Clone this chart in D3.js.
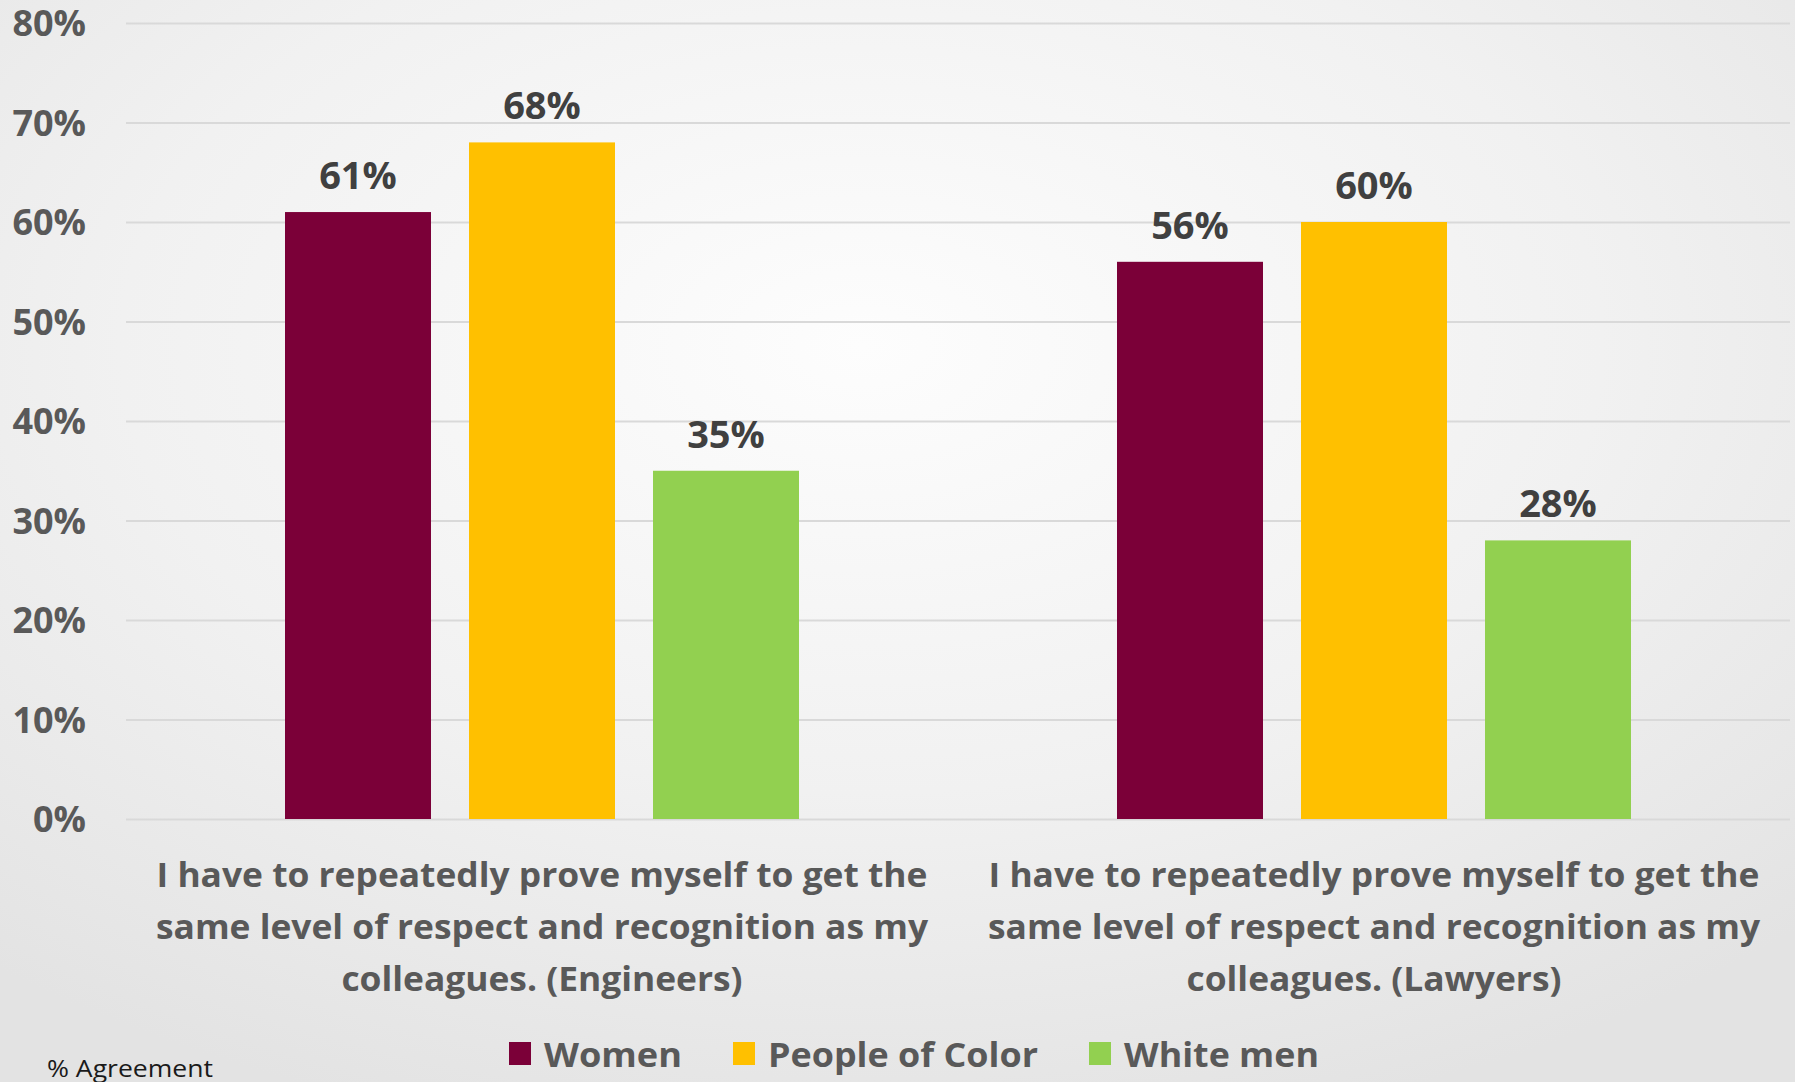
<!DOCTYPE html>
<html>
<head>
<meta charset="utf-8">
<script src="https://cdn.jsdelivr.net/npm/d3@7"></script>
<style>
  html, body { margin: 0; padding: 0; background: #eeeeee; }
  svg { display: block; }
  text { font-family: "Open Sans", "DejaVu Sans", sans-serif; }
</style>
</head>
<body>
<svg id="chart" width="1795" height="1082"></svg>
<script>
// ---- data ----
const categories = ["Engineers", "Lawyers"];
const categoryLines = [
  ["I have to repeatedly prove myself to get the", "same level of respect and recognition as my", "colleagues. (Engineers)"],
  ["I have to repeatedly prove myself to get the", "same level of respect and recognition as my", "colleagues. (Lawyers)"]
];
const seriesNames = ["Women", "People of Color", "White men"];
const seriesColors = ["#7B0038", "#FFC000", "#92D050"];
const women = [61, 56];
const peopleOfColor = [68, 60];
const whiteMen = [35, 28];
const yTicks = [0, 10, 20, 30, 40, 50, 60, 70, 80];
const yAxisTitle = "% Agreement";

const seriesValues = [women, peopleOfColor, whiteMen];

// ---- layout ----
const W = 1795, H = 1082;
const plotLeft = 126, plotRight = 1790, plotTop = 23, plotBottom = 819;

const svg = d3.select("#chart");

// background gradient
const defs = svg.append("defs");
const grad = defs.append("radialGradient").attr("id", "bg")
  .attr("cx", "48%").attr("cy", "32%").attr("r", "75%");
grad.append("stop").attr("offset", "0%").attr("stop-color", "#fdfdfd");
grad.append("stop").attr("offset", "55%").attr("stop-color", "#f1f1f1");
grad.append("stop").attr("offset", "100%").attr("stop-color", "#e3e3e3");
svg.append("rect").attr("width", W).attr("height", H).attr("fill", "url(#bg)");

const y = d3.scaleLinear().domain([0, 80]).range([plotBottom, plotTop]);
const x0 = d3.scaleBand().domain(categories).range([plotLeft, plotRight]).padding(0);
const groupInner = 514;
const x1 = d3.scaleBand().domain(seriesNames)
  .range([(x0.bandwidth() - groupInner) / 2, (x0.bandwidth() + groupInner) / 2])
  .paddingInner(38 / 184).paddingOuter(0);

// y axis with gridlines
const yAxis = d3.axisLeft(y).tickValues(yTicks).tickFormat(d => d + "%")
  .tickSize(-(plotRight - plotLeft)).tickPadding(40);
const gy = svg.append("g").attr("transform", `translate(${plotLeft},0)`).call(yAxis);
gy.select(".domain").remove();
gy.selectAll(".tick line").attr("stroke", "#d9d9d9").attr("stroke-width", 2);
gy.selectAll(".tick text")
  .attr("font-size", 36).attr("font-weight", 700).attr("fill", "#595959")
  .attr("dy", "0.36em")
  .style("font-family", "'Open Sans', sans-serif");

// bars
const rows = [];
categories.forEach((c, i) => {
  seriesNames.forEach((s, j) => rows.push({ cat: c, ser: s, val: seriesValues[j][i], color: seriesColors[j] }));
});

const gBars = svg.append("g");
gBars.selectAll("rect").data(rows).join("rect")
  .attr("x", d => x0(d.cat) + x1(d.ser))
  .attr("y", d => y(d.val))
  .attr("width", x1.bandwidth())
  .attr("height", d => y(0) - y(d.val))
  .attr("fill", d => d.color);

gBars.selectAll("text").data(rows).join("text")
  .attr("x", d => x0(d.cat) + x1(d.ser) + x1.bandwidth() / 2)
  .attr("y", d => y(d.val) - 23)
  .attr("text-anchor", "middle")
  .attr("font-size", 38).attr("font-weight", 700).attr("fill", "#404040")
  .text(d => d.val + "%");

// category labels
const gCat = svg.append("g");
const catLineBaselines = [887, 939, 991];
categories.forEach((c, i) => {
  categoryLines[i].forEach((line, k) => {
    gCat.append("text")
      .attr("x", x0(c) + x0.bandwidth() / 2)
      .attr("y", catLineBaselines[k])
      .attr("text-anchor", "middle")
      .attr("font-size", 34).attr("font-weight", 700).attr("fill", "#595959")
      .text(line);
  });
});
// compress to match narrow original face
function compress(sel, k) {
  sel.each(function () {
    const L = this.getComputedTextLength();
    d3.select(this).attr("textLength", L * k).attr("lengthAdjust", "spacingAndGlyphs");
  });
}
const firstCat = gCat.select("text").node();
const kCat = 771 / firstCat.getComputedTextLength();
compress(gCat.selectAll("text"), kCat);

// legend
const gLeg = svg.append("g");
const legendX = [509, 733, 1089];
const legendTextW = [138, 270, 195];
seriesNames.forEach((s, j) => {
  const lx = legendX[j];
  gLeg.append("rect").attr("x", lx).attr("y", 1042).attr("width", 22).attr("height", 23)
    .attr("fill", seriesColors[j]);
  gLeg.append("text").attr("x", lx + 35).attr("y", 1067)
    .attr("font-size", 34).attr("font-weight", 700).attr("fill", "#595959").text(s)
    .attr("textLength", legendTextW[j]).attr("lengthAdjust", "spacingAndGlyphs");
});

// y axis title at bottom-left
const at = svg.append("text").attr("x", 47).attr("y", 1077)
  .attr("font-size", 23).attr("font-weight", 400).attr("fill", "#1a1a1a").text(yAxisTitle);
compress(at, 166 / at.node().getComputedTextLength());
</script>
</body>
</html>
